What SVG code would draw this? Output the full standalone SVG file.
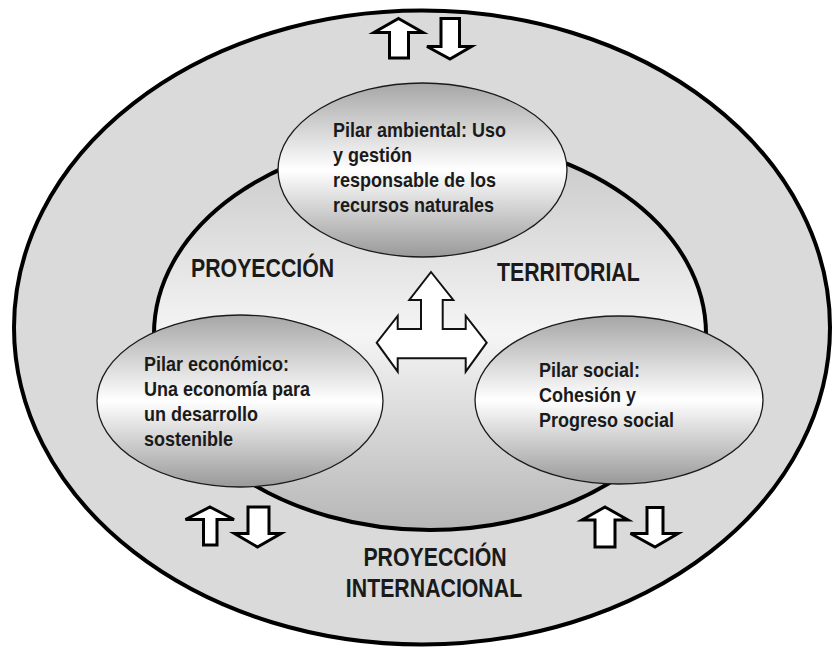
<svg xmlns="http://www.w3.org/2000/svg" width="832" height="649" viewBox="0 0 832 649">
  <defs>
    <linearGradient id="pillarGrad" x1="0" y1="0" x2="0" y2="1">
      <stop offset="0" stop-color="#a6a6a6"/>
      <stop offset="0.5" stop-color="#ffffff"/>
      <stop offset="1" stop-color="#999999"/>
    </linearGradient>
    <linearGradient id="innerGrad" x1="0" y1="0" x2="0" y2="1">
      <stop offset="0" stop-color="#c6c6c6"/>
      <stop offset="0.5" stop-color="#f5f5f5"/>
      <stop offset="1" stop-color="#b6b6b6"/>
    </linearGradient>
  </defs>
  <style>
    .outer { fill: #dadada; stroke: #000; stroke-width: 4; }
    .inner { fill: url(#innerGrad); stroke: #000; stroke-width: 4; }
    .pillar { fill: url(#pillarGrad); stroke: #1a1a1a; stroke-width: 1.3; }
    .arrow { fill: #fff; stroke: #000; stroke-width: 3; stroke-linejoin: miter; }
    .centerArrow { fill: #fff; stroke: #111; stroke-width: 2; stroke-linejoin: miter; }
    .ptext { font-family: "Liberation Sans", Arial, sans-serif; font-weight: bold; font-size: 20px; fill: #1a1a1a; }
    .label { font-family: "Liberation Sans", Arial, sans-serif; font-weight: bold; font-size: 25px; fill: #1a1a1a; }
  </style>

  <g id="outer-ring">
    <ellipse class="outer" cx="422" cy="327.5" rx="408" ry="317"/>
  </g>
  <g id="inner-ring">
    <ellipse class="inner" cx="430" cy="334" rx="276" ry="196"/>
  </g>

  <g id="connectors">
    <polygon class="arrow" points="398.5,18.5 423,32.5 408.5,32.5 408.5,58 389.5,58 389.5,32.5 374,32.5"/>
    <polygon class="arrow" points="441,18.5 459.5,18.5 459.5,46.5 471.5,46.5 450,59 427,46.5 441,46.5"/>
    <polygon class="arrow" points="210,507 234,519.5 217,519.5 217,545 203.5,545 203.5,519.5 185.5,519.5"/>
    <polygon class="arrow" points="248,507 269,507 269,533.5 281,533.5 257.5,547 234.5,533.5 248,533.5"/>
    <polygon class="arrow" points="605,507 628,520 615,520 615,547 595,547 595,520 582,520"/>
    <polygon class="arrow" points="647,507.5 663,507.5 663,533.5 678,533.5 655,547 630.5,533.5 647,533.5"/>
    <polygon class="centerArrow" points="431,272 453.3,300 442.7,300 442.7,329 465.7,329 465.7,316 486.7,342.7 465.7,371.7 465.7,358.3 397.7,358.3 397.7,371.7 376.7,342.7 397.7,316 397.7,329 421,329 421,300 409.3,300"/>
  </g>

  <g id="pilar-ambiental">
    <ellipse class="pillar" cx="422.5" cy="170" rx="144.5" ry="87"/>
    <text class="ptext" transform="translate(333 0) scale(0.9 1)">
      <tspan x="0" y="137">Pilar ambiental: Uso</tspan>
      <tspan x="0" y="162">y gestión</tspan>
      <tspan x="0" y="187">responsable de los</tspan>
      <tspan x="0" y="212">recursos naturales</tspan>
    </text>
  </g>

  <g id="pilar-economico">
    <ellipse class="pillar" cx="240" cy="401" rx="143" ry="86"/>
    <text class="ptext" transform="translate(144 0) scale(0.9 1)">
      <tspan x="0" y="371">Pilar económico:</tspan>
      <tspan x="0" y="396">Una economía para</tspan>
      <tspan x="0" y="421">un desarrollo</tspan>
      <tspan x="0" y="446">sostenible</tspan>
    </text>
  </g>

  <g id="pilar-social">
    <ellipse class="pillar" cx="619" cy="400" rx="144" ry="84"/>
    <text class="ptext" transform="translate(539 0) scale(0.9 1)">
      <tspan x="0" y="377">Pilar social:</tspan>
      <tspan x="0" y="402">Cohesión y</tspan>
      <tspan x="0" y="427">Progreso social</tspan>
    </text>
  </g>

  <g id="label-territorial">
    <text class="label" transform="translate(191 0) scale(0.852 1)" x="0" y="277">PROYECCIÓN</text>
    <text class="label" transform="translate(497 0) scale(0.852 1)" x="0" y="281">TERRITORIAL</text>
  </g>

  <g id="label-internacional">
    <text class="label" transform="translate(435 0) scale(0.852 1)" x="0" y="566" text-anchor="middle">PROYECCIÓN</text>
    <text class="label" transform="translate(434 0) scale(0.852 1)" x="0" y="597" text-anchor="middle">INTERNACIONAL</text>
  </g>
</svg>
